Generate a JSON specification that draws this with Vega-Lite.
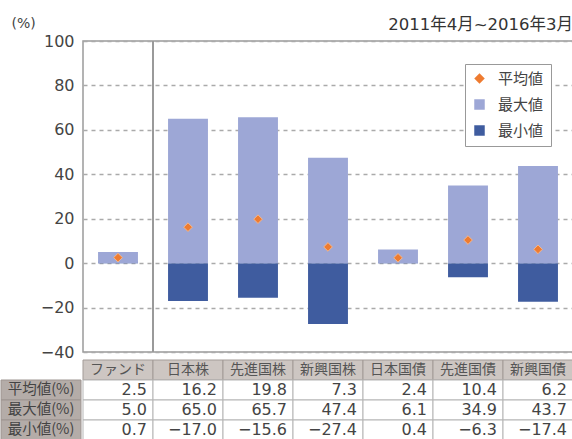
{
  "$schema": "https://vega.github.io/schema/vega-lite/v6.json",
  "padding": {"top": 15, "left": 0, "right": 2, "bottom": 0},
  "background": "white",
  "datasets": {
    "funds": [
      {"cat": "ファンド", "mean": 2.5, "max": 5.0, "min": 0.7},
      {"cat": "日本株", "mean": 16.2, "max": 65.0, "min": -17.0},
      {"cat": "先進国株", "mean": 19.8, "max": 65.7, "min": -15.6},
      {"cat": "新興国株", "mean": 7.3, "max": 47.4, "min": -27.4},
      {"cat": "日本国債", "mean": 2.4, "max": 6.1, "min": 0.4},
      {"cat": "先進国債", "mean": 10.4, "max": 34.9, "min": -6.3},
      {"cat": "新興国債", "mean": 6.2, "max": 43.7, "min": -17.4}
    ],
    "rowlabels": [
      {"key": "mean", "label": "平均値(%)"},
      {"key": "max", "label": "最大値(%)"},
      {"key": "min", "label": "最小値(%)"}
    ],
    "sep": [{"cat": "日本株"}]
  },
  "config": {
    "view": {"stroke": null},
    "font": "Noto Sans CJK JP"
  },
  "columns": 2,
  "spacing": {"row": -13, "column": 0},
  "resolve": {"scale": {"x": "independent", "y": "independent"}},
  "concat": [
    {
      "width": 80,
      "height": 311,
      "data": {"name": "funds"},
      "mark": {"type": "rule", "opacity": 0},
      "encoding": {
        "y": {"field": "mean", "type": "quantitative",
              "scale": {"domain": [-40, 100], "nice": false},
              "axis": {"orient": "left", "offset": -80, "values": [-40, -20, 0, 20, 40, 60, 80, 100], "domain": false, "ticks": false, "grid": false, "labelPadding": 7,
                       "labelFont": "DejaVu Sans", "labelFontSize": 16, "labelColor": "#444444",
                       "minExtent": 0, "maxExtent": 200,
                       "title": "(%)", "titleAngle": 0, "titleX": -70, "titleY": -18, "titleAlign": "left", "titleBaseline": "middle",
                       "titleFont": "DejaVu Sans", "titleFontSize": 14, "titleFontWeight": "normal", "titleColor": "#444444"}}
      }
    },
    {
      "width": 490,
      "height": 311,
      "view": {"stroke": "#9a9a9a", "strokeWidth": 1.5},
      "title": {"text": "2011年4月~2016年3月", "anchor": "end", "fontSize": 16.5, "fontWeight": "normal", "color": "#333333", "offset": 7, "font": "DejaVu Sans, Noto Sans CJK JP"},
      "data": {"name": "funds"},
      "encoding": {
        "x": {"field": "cat", "type": "nominal", "sort": null, "axis": null,
              "scale": {"domain": ["ファンド", "日本株", "先進国株", "新興国株", "日本国債", "先進国債", "新興国債"], "paddingInner": 0, "paddingOuter": 0}}
      },
      "layer": [
        {
          "mark": {"type": "bar", "width": {"band": 0.57}},
          "encoding": {
            "y": {"field": "min", "type": "quantitative",
                  "scale": {"domain": [-40, 100], "nice": false},
                  "axis": {"values": [-40, -20, 0, 20, 40, 60, 80, 100], "domain": false, "ticks": false, "labels": false, "title": null,
                           "grid": true, "gridDash": [4, 4], "gridColor": "#aaaaaa", "gridWidth": 1.5,
                           "minExtent": 0, "maxExtent": 0}},
            "color": {"datum": "最小値",
                      "scale": {"domain": ["平均値", "最大値", "最小値"], "range": ["#ee7b30", "#9da7d6", "#3f5c9f"]},
                      "legend": {"orient": "none", "legendX": 464, "legendY": 23, "title": null,
                                 "fillColor": "white", "strokeColor": "#999999", "padding": 7,
                                 "symbolType": "square", "symbolSize": 110, "symbolStrokeWidth": 0,
                                 "labelFont": "Noto Sans CJK JP", "labelFontSize": 15, "labelColor": "#444444",
                                 "rowPadding": 10, "labelOffset": 11,
                                 "encode": {"symbols": {"update": {"shape": {"signal": "datum.value === '平均値' ? 'diamond' : 'square'"}}}}}}
          }
        },
        {
          "mark": {"type": "bar", "width": {"band": 0.57}},
          "encoding": {
            "y": {"field": "max", "type": "quantitative"},
            "color": {"datum": "最大値"}
          }
        },
        {
          "mark": {"type": "rule", "color": "#808080", "strokeWidth": 1},
          "encoding": {"y": {"datum": 0}}
        },
        {
          "data": {"name": "sep"},
          "mark": {"type": "rule", "color": "#9a9a9a", "strokeWidth": 2},
          "encoding": {"x": {"field": "cat", "type": "nominal", "bandPosition": 0}}
        },
        {
          "mark": {"type": "point", "shape": "diamond", "filled": true, "size": 75, "opacity": 1, "stroke": "#f7b68a", "strokeWidth": 1},
          "encoding": {
            "y": {"field": "mean", "type": "quantitative"},
            "color": {"datum": "平均値"}
          }
        }
      ]
    },
    {
      "width": 80,
      "height": 80,
      "data": {"name": "rowlabels"},
      "encoding": {
        "x": {"datum": "l", "type": "nominal", "axis": null, "scale": {"paddingInner": 0, "paddingOuter": 0}},
        "y": {"field": "key", "type": "nominal", "axis": null, "scale": {"domain": ["h", "mean", "max", "min"], "paddingInner": 0, "paddingOuter": 0}}
      },
      "layer": [
        {"mark": {"type": "rect", "fill": "#b4aca8", "stroke": "#9d9490", "strokeWidth": 1}, "encoding": {}},
        {"mark": {"type": "text", "font": "Noto Sans CJK JP", "fontSize": 14.5, "color": "#444444"}, "encoding": {"text": {"field": "label"}}}
      ]
    },
    {
      "width": 490,
      "height": 80,
      "data": {"name": "funds"},
      "encoding": {
        "x": {"field": "cat", "type": "nominal", "sort": null, "axis": null,
              "scale": {"domain": ["ファンド", "日本株", "先進国株", "新興国株", "日本国債", "先進国債", "新興国債"], "paddingInner": 0, "paddingOuter": 0}}
      },
      "layer": [
        {
          "mark": {"type": "rect", "fill": "#cdc6c2", "stroke": "#a39b97", "strokeWidth": 1},
          "encoding": {"y": {"datum": "h", "type": "nominal", "axis": null, "scale": {"domain": ["h", "mean", "max", "min"], "paddingInner": 0, "paddingOuter": 0}}}
        },
        {
          "mark": {"type": "text", "font": "Noto Sans CJK JP", "fontSize": 14, "color": "#555555"},
          "encoding": {"y": {"datum": "h", "type": "nominal"}, "text": {"field": "cat"}}
        },
        {
          "transform": [{"fold": ["mean", "max", "min"], "as": ["key", "value"]}],
          "mark": {"type": "rect", "fill": "white", "stroke": "#b5b5b5", "strokeWidth": 1},
          "encoding": {"y": {"field": "key", "type": "nominal"}}
        },
        {
          "transform": [{"fold": ["mean", "max", "min"], "as": ["key", "value"]}],
          "mark": {"type": "text", "font": "DejaVu Sans", "fontSize": 16, "color": "#444444", "align": "right", "dx": -6},
          "encoding": {
            "x": {"field": "cat", "type": "nominal", "bandPosition": 1},
            "y": {"field": "key", "type": "nominal"},
            "text": {"field": "value", "type": "quantitative", "format": ".1f"}
          }
        }
      ]
    }
  ]
}
